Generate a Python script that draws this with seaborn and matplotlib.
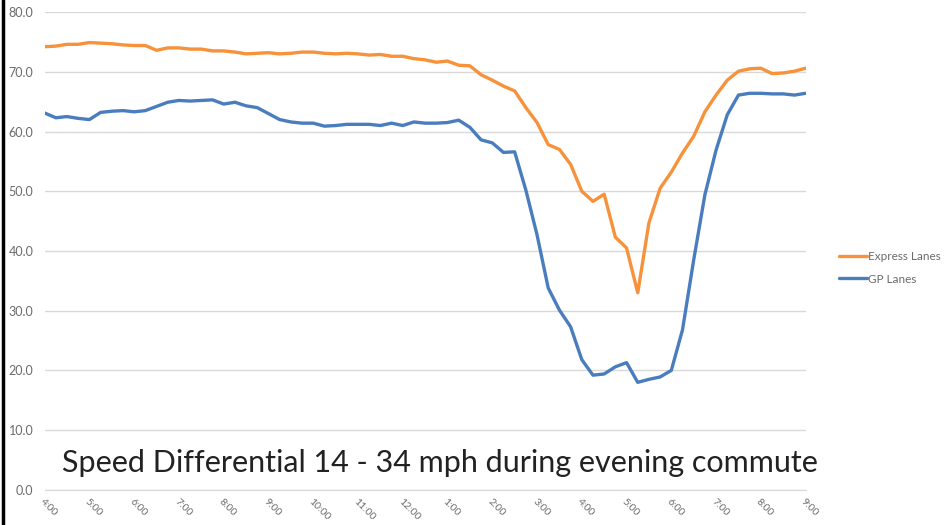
import numpy as np
import pandas as pd
import matplotlib.pyplot as plt
from matplotlib.lines import Line2D
import seaborn as sns

# 15 minute readings, 4:00 AM to 9:00 PM
hour_labels = ["4:00", "5:00", "6:00", "7:00", "8:00", "9:00", "10:00", "11:00", "12:00",
               "1:00", "2:00", "3:00", "4:00", "5:00", "6:00", "7:00", "8:00", "9:00"]

express = [74.2, 74.3, 74.6, 74.6, 74.9, 74.8, 74.7, 74.5,
           74.4, 74.4, 73.6, 74.0, 74.0, 73.8, 73.8, 73.5,
           73.5, 73.3, 73.0, 73.1, 73.2, 73.0, 73.1, 73.3,
           73.3, 73.1, 73.0, 73.1, 73.0, 72.8, 72.9, 72.6,
           72.6, 72.2, 72.0, 71.6, 71.8, 71.1, 71.0, 69.5,
           68.6, 67.6, 66.8, 64.0, 61.5, 57.8, 57.0, 54.5,
           50.0, 48.3, 49.5, 42.3, 40.5, 33.0, 44.7, 50.5,
           53.2, 56.4, 59.2, 63.3, 66.1, 68.6, 70.1, 70.5,
           70.6, 69.7, 69.8, 70.1, 70.6]

gp = [63.1, 62.3, 62.5, 62.2, 62.0, 63.2, 63.4, 63.5,
      63.3, 63.5, 64.2, 64.9, 65.2, 65.1, 65.2, 65.3,
      64.6, 64.9, 64.3, 64.0, 63.0, 62.0, 61.6, 61.4,
      61.4, 60.9, 61.0, 61.2, 61.2, 61.2, 61.0, 61.4,
      61.0, 61.6, 61.4, 61.4, 61.5, 61.9, 60.7, 58.6,
      58.1, 56.5, 56.6, 50.2, 42.7, 33.8, 30.1, 27.3,
      21.8, 19.2, 19.4, 20.6, 21.3, 18.0, 18.5, 18.9,
      20.0, 26.8, 38.5, 49.4, 56.9, 62.8, 66.1, 66.4,
      66.4, 66.3, 66.3, 66.1, 66.4]

t = np.arange(len(express)) * 0.25

df = pd.DataFrame({
    "t": np.concatenate([t, t]),
    "speed": express + gp,
    "lane": ["Express Lanes"] * len(express) + ["GP Lanes"] * len(gp),
})

sns.set_style("white")
plt.rcParams["font.family"] = ["Lato", "DejaVu Sans"]

fig = plt.figure(figsize=(9.5, 5.25), dpi=100)
ax = fig.add_axes([0.047, 0.067, 0.801, 0.910])

sns.lineplot(data=df, x="t", y="speed", hue="lane",
             palette={"Express Lanes": "#F7923A", "GP Lanes": "#4A7DBE"},
             linewidth=2.4, ax=ax)

ax.set_xlim(0, 17)
ax.set_ylim(0, 80)
ax.set_yticks(np.arange(0, 81, 10))
ax.set_yticklabels([f"{v:.1f}" for v in np.arange(0, 81, 10)], color="#6b6b6b", fontsize=9)
ax.set_xticks(np.arange(0, 18))
ax.set_xticklabels(hour_labels, rotation=-45, ha="left", rotation_mode="anchor",
                   color="#6b6b6b", fontsize=7.5)
ax.tick_params(axis="x", length=4, color="#d9d9d9", pad=1)
ax.tick_params(axis="y", length=0, pad=8)
ax.grid(axis="y", color="#d9d9d9", linewidth=1)
ax.set_axisbelow(True)
for s in ["top", "right", "left"]:
    ax.spines[s].set_visible(False)
ax.spines["bottom"].set_color("#d9d9d9")
ax.set_xlabel("")
ax.set_ylabel("")

ax.legend(loc="center left", bbox_to_anchor=(1.03, 0.465), frameon=False,
          fontsize=8.5, labelcolor="#6b6b6b", handlelength=2.4, handletextpad=0.05,
          labelspacing=1.0)

ax.text(0.52, 0.056, "Speed Differential 14 - 34 mph during evening commute",
        transform=ax.transAxes, ha="center", va="center", fontsize=22, color="#222222")

# black left edge
fig.add_artist(Line2D([0.003, 0.003], [0, 1], color="black", linewidth=2.5,
                      transform=fig.transFigure))

fig.savefig("out.png", dpi=100)
